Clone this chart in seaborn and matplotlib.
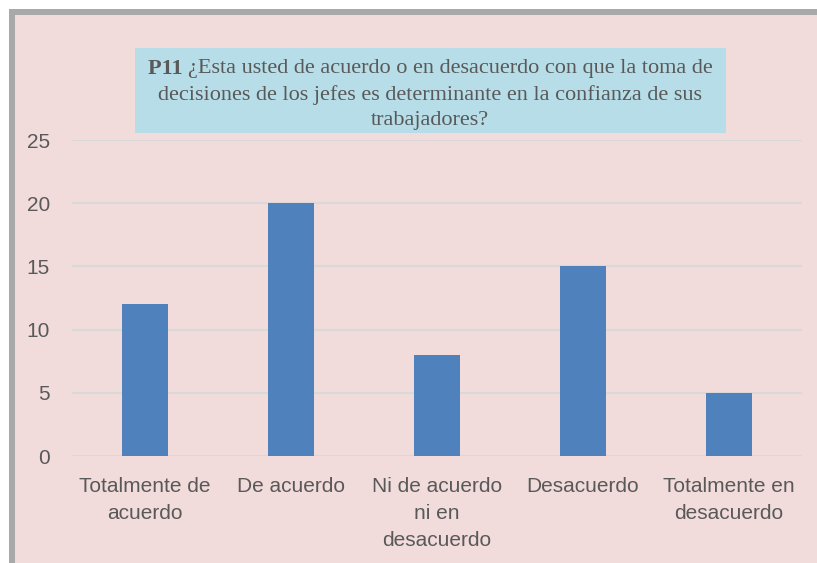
import matplotlib
matplotlib.use("Agg")
import matplotlib.pyplot as plt
from matplotlib.patches import Rectangle
import seaborn as sns
import pandas as pd

categories = ["Totalmente de\nacuerdo", "De acuerdo", "Ni de acuerdo\nni en\ndesacuerdo",
              "Desacuerdo", "Totalmente en\ndesacuerdo"]
values = [12, 20, 8, 15, 5]
yticks = [0, 5, 10, 15, 20, 25]
title_bold = "P11"
title_line1 = "¿Esta usted de acuerdo o en desacuerdo con que la toma de"
title_line2 = "decisiones de los jefes es determinante en la confianza de sus"
title_line3 = "trabajadores?"

sns.set_theme(style="white")
plt.rcParams["font.family"] = ["Liberation Sans", "DejaVu Sans"]

W, H = 817, 563
fig = plt.figure(figsize=(W / 100, H / 100), dpi=100, facecolor="white")

def fx(px):
    return px / W

def fy(py):
    return 1 - py / H

# Chart area background with border
fig.patches.append(Rectangle((fx(9), 0), 1 - fx(9), fy(9), transform=fig.transFigure,
                             facecolor="#a9a9a9", edgecolor="none", zorder=-2))
fig.patches.append(Rectangle((fx(15), 0), 1 - fx(15), fy(15), transform=fig.transFigure,
                             facecolor="#f1dcdb", edgecolor="none", zorder=-1))

ax = fig.add_axes([fx(72), fy(456), fx(802) - fx(72), fy(140) - fy(456)])
ax.set_facecolor("none")
ax.set_zorder(2)

df = pd.DataFrame({"cat": categories, "val": values})
sns.barplot(data=df, x="cat", y="val", color="#4f81bd", saturation=1, width=0.315,
            linewidth=0, edgecolor="none", ax=ax, zorder=3)

ax.set_ylim(0, 25)
ax.set_yticks(yticks)
ax.set_xlim(-0.5, len(categories) - 0.5)
ax.set_xlabel("")
ax.set_ylabel("")
ax.grid(axis="y", color="#d9d9d9", linewidth=1.5, zorder=0)
ax.set_axisbelow(True)
for s in ax.spines.values():
    s.set_visible(False)
ax.tick_params(axis="both", length=0, labelsize=15, labelcolor="#595959")
ax.tick_params(axis="x", pad=15)
ax.tick_params(axis="y", pad=16)
for lab in ax.get_xticklabels():
    lab.set_linespacing(1.55)

# Title box
fig.patches.append(Rectangle((fx(135), fy(133)), fx(726) - fx(135), fy(48) - fy(133),
                             transform=fig.transFigure, facecolor="#b7dee8",
                             edgecolor="none", zorder=3))

serif = ["Liberation Serif", "DejaVu Serif"]
tcol = "#595959"
fs = 16
cx = fx(430)
fig.canvas.draw()
r = fig.canvas.get_renderer()
tb = fig.text(0, fy(69), title_bold + " ", fontsize=fs, family=serif, weight="bold",
              color=tcol, va="center", ha="left", zorder=5)
tr = fig.text(0, fy(69), title_line1, fontsize=fs, family=serif, color=tcol,
              va="center", ha="left", zorder=5)
wb = tb.get_window_extent(r).width
wr = tr.get_window_extent(r).width
total = wb + wr
start = 430 - total / 2
tb.set_x(fx(start))
tr.set_x(fx(start + wb))
fig.text(cx, fy(95), title_line2, fontsize=fs, family=serif, color=tcol,
         va="center", ha="center", zorder=5)
fig.text(cx, fy(120), title_line3, fontsize=fs, family=serif, color=tcol,
         va="center", ha="center", zorder=5)

fig.savefig("out.png", dpi=100, facecolor="white")
